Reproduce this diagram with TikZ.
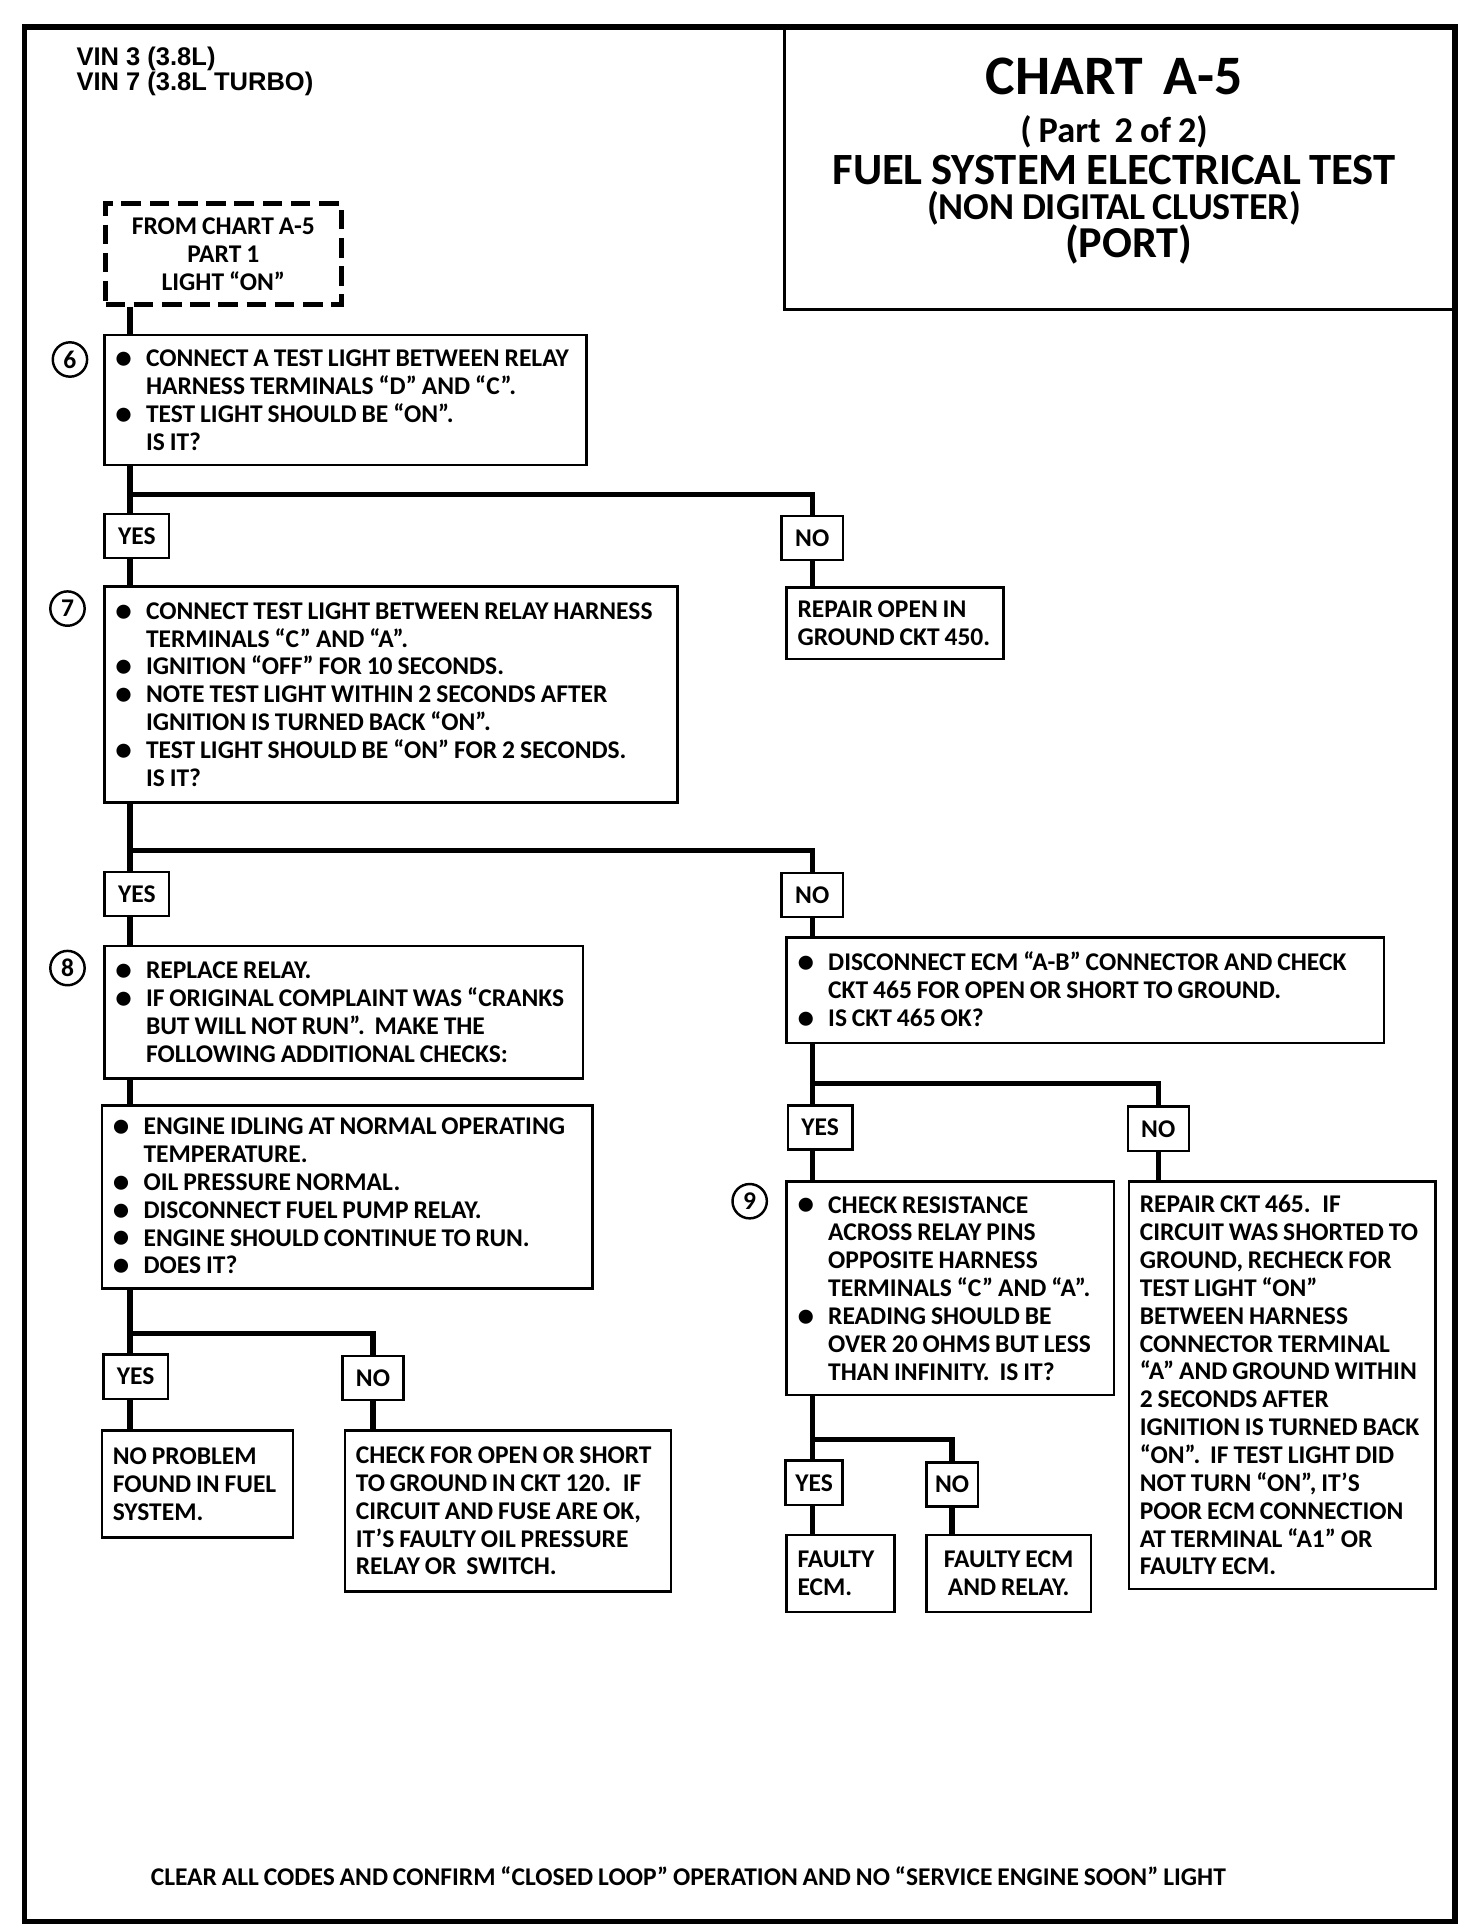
\documentclass[tikz,border=0pt]{standalone}
\usepackage{fontspec}
\setmainfont{Carlito}[WordSpace=0.85]
\newfontfamily\vinfont{Liberation Sans}
\usepackage{tikz}

\newcommand{\bodyfont}{\fontsize{10.4}{11.35}\selectfont\bfseries}
\newcommand{\bul}{\makebox[12.5pt][l]{\raisebox{-0.15ex}{\scalebox{1.3}{\textbullet}}}}
\newcommand{\ind}{\hspace*{12.5pt}}

\begin{document}
\begin{tikzpicture}[x=0.5pt, y=-0.5pt,
    chk/.style={draw, line width=1pt, anchor=north west, align=flush left, inner xsep=4.5pt, inner ysep=1pt, font=\bodyfont},
    ans/.style={draw, line width=1pt, font=\bodyfont, inner xsep=5.5pt, inner ysep=0pt, minimum height=18pt},
    wire/.style={line width=2.2pt},
    stepno/.style={circle, draw, line width=1pt, minimum size=14pt, inner sep=0pt, font=\bodyfont},
    headline/.style={anchor=base, inner sep=0pt, font=\bfseries}]
            \useasboundingbox (0,0) rectangle (1200,1573);
            \draw[line width=2.2pt] (20,22) rectangle (1186,1566);

            % Header and title block
            \node[anchor=base west, inner sep=0pt, font=\vinfont\bfseries\fontsize{10.4}{12}\selectfont] (vin3) at (62,53) {VIN 3 (3.8L)};
            \node[anchor=base west, inner sep=0pt, font=\vinfont\bfseries\fontsize{10.4}{12}\selectfont] (vin7) at (62,74) {VIN 7 (3.8L TURBO)};
            \node[draw, line width=1.2pt, anchor=north west, minimum width=274pt, minimum height=114.5pt, inner sep=0pt] (chartbox) at (638,22) {};
            \node[headline, font=\bfseries\fontsize{22.7}{24}\selectfont] (chart) at (908,77) {CHART\ \ A-5};
            \node[headline, font=\bfseries\fontsize{14.8}{16}\selectfont] (part) at (908,116) {( Part\ \ 2 of 2)};
            \node[headline, font=\bfseries\fontsize{18.2}{20}\selectfont] (fuel) at (908,150) {FUEL SYSTEM ELECTRICAL TEST};
            \node[headline, font=\bfseries\fontsize{15.5}{17}\selectfont] (cluster) at (908,179) {(NON DIGITAL CLUSTER)};
            \node[headline, font=\bfseries\fontsize{18}{20}\selectfont] (port) at (920,210) {(PORT)};

            % Trunk columns and branch rails
            \coordinate (cL) at (106,0);
            \coordinate (cR) at (662,0);
            \coordinate (rail6) at (106,403);
            \coordinate (rail7) at (106,693);
            \coordinate (rail8) at (106,1087);
            \coordinate (railA) at (662,883);
            \coordinate (railB) at (662,1173);

            % Left column
            \node[draw, dash pattern=on 8pt off 3.5pt, line width=2pt, anchor=north west, minimum width=96pt, minimum height=41pt, align=flush center, font=\bodyfont, inner sep=0pt] (from) at (84,164) {FROM CHART A-5\\PART 1\\LIGHT “ON”};

            \node[chk, text width=187.5pt, minimum height=53pt] (box6) at (84,272) {\bul CONNECT A TEST LIGHT BETWEEN RELAY\\\ind HARNESS TERMINALS “D” AND “C”.\\\bul TEST LIGHT SHOULD BE “ON”.\\\ind IS IT?};
            \node[stepno] (n6) at (57,293) {6};

            \node[ans] (yes6) at (111.5,437) {YES};
            \node[ans] (no6) at (662,438.5) {NO};
            \node[chk, text width=79.5pt, minimum height=29pt] (gnd) at (640,478) {REPAIR OPEN IN\\GROUND CKT 450.};

            \node[chk, text width=224.5pt, minimum height=88pt] (box7) at (84,477) {\bul CONNECT TEST LIGHT BETWEEN RELAY HARNESS\\\ind TERMINALS “C” AND “A”.\\\bul IGNITION “OFF” FOR 10 SECONDS.\\\bul NOTE TEST LIGHT WITHIN 2 SECONDS AFTER\\\ind IGNITION IS TURNED BACK “ON”.\\\bul TEST LIGHT SHOULD BE “ON” FOR 2 SECONDS.\\\ind IS IT?};
            \node[stepno] (n7) at (55,496) {7};

            \node[ans] (yes7) at (111.5,728.5) {YES};
            \node[ans] (no7) at (662,729.5) {NO};

            \node[chk, text width=186pt, minimum height=54pt] (box8) at (84,770) {\bul REPLACE RELAY.\\\bul IF ORIGINAL COMPLAINT WAS “CRANKS\\\ind BUT WILL NOT RUN”. \ MAKE THE\\\ind FOLLOWING ADDITIONAL CHECKS:};
            \node[stepno] (n8) at (55,789) {8};

            \node[chk, text width=191pt, minimum height=74.5pt] (idle) at (82,900) {\bul ENGINE IDLING AT NORMAL OPERATING\\\ind TEMPERATURE.\\\bul OIL PRESSURE NORMAL.\\\bul DISCONNECT FUEL PUMP RELAY.\\\bul ENGINE SHOULD CONTINUE TO RUN.\\\bul DOES IT?};

            \node[ans] (yes8) at (110.5,1122) {YES};
            \node[ans] (no8) at (304,1123) {NO};
            \node[chk, text width=69pt, minimum height=43.5pt] (okfuel) at (82,1165) {NO PROBLEM\\FOUND IN FUEL\\SYSTEM.};
            \node[chk, text width=124pt, minimum height=65.5pt] (oilsw) at (280,1165) {CHECK FOR OPEN OR SHORT\\TO GROUND IN CKT 120. \ IF\\CIRCUIT AND FUSE ARE OK,\\IT’S FAULTY OIL PRESSURE\\RELAY OR \ SWITCH.};

            % Right column
            \node[chk, text width=234.5pt, minimum height=43pt] (ecm) at (640,763) {\bul DISCONNECT ECM “A-B” CONNECTOR AND CHECK\\\ind CKT 465 FOR OPEN OR SHORT TO GROUND.\\\bul IS CKT 465 OK?};

            \node[ans] (yesA) at (668.5,919) {YES};
            \node[ans] (noA) at (944,920) {NO};

            \node[chk, text width=124.5pt, minimum height=87pt] (box9) at (640,962) {\bul CHECK RESISTANCE\\\ind ACROSS RELAY PINS\\\ind OPPOSITE HARNESS\\\ind TERMINALS “C” AND “A”.\\\bul READING SHOULD BE\\\ind OVER 20 OHMS BUT LESS\\\ind THAN INFINITY. \ IS IT?};
            \node[stepno] (n9) at (611,979) {9};

            \node[chk, text width=116pt, minimum height=166pt] (fix465) at (919,962) {REPAIR CKT 465. \ IF\\CIRCUIT WAS SHORTED TO\\GROUND, RECHECK FOR\\TEST LIGHT “ON”\\BETWEEN HARNESS\\CONNECTOR TERMINAL\\“A” AND GROUND WITHIN\\2 SECONDS AFTER\\IGNITION IS TURNED BACK\\“ON”. \ IF TEST LIGHT DID\\NOT TURN “ON”, IT’S\\POOR ECM CONNECTION\\AT TERMINAL “A1” OR\\FAULTY ECM.};

            \node[ans, inner xsep=4pt] (yesB) at (663.5,1208.5) {YES};
            \node[ans, inner xsep=3.5pt] (noB) at (776,1210) {NO};
            \node[chk, text width=35pt, minimum height=31.5pt] (badecm) at (640,1250) {FAULTY\\ECM.};
            \node[chk, text width=58pt, minimum height=31.5pt, align=flush center] (badrelay) at (754,1250) {FAULTY ECM\\AND RELAY.};

            % Connectors
            \draw[wire] (from.south -| cL) -- (box6.north -| cL);
            \draw[wire] (box6.south -| cL) -- (yes6.north -| cL);
            \draw[wire] (rail6) -| (no6.north);
            \draw[wire] (yes6.south -| cL) -- (box7.north -| cL);
            \draw[wire] (no6.south) -- (gnd.north -| no6.south);
            \draw[wire] (box7.south -| cL) -- (yes7.north -| cL);
            \draw[wire] (rail7) -| (no7.north);
            \draw[wire] (yes7.south -| cL) -- (box8.north -| cL);
            \draw[wire] (box8.south -| cL) -- (idle.north -| cL);
            \draw[wire] (idle.south -| cL) -- (yes8.north -| cL);
            \draw[wire] (rail8) -| (no8.north);
            \draw[wire] (yes8.south -| cL) -- (okfuel.north -| cL);
            \draw[wire] (no8.south) -- (oilsw.north -| no8.south);
            \draw[wire] (no7.south) -- (ecm.north -| no7.south);
            \draw[wire] (ecm.south -| cR) -- (yesA.north -| cR);
            \draw[wire] (railA) -| (noA.north);
            \draw[wire] (yesA.south -| cR) -- (box9.north -| cR);
            \draw[wire] (noA.south) -- (fix465.north -| noA.south);
            \draw[wire] (box9.south -| cR) -- (yesB.north -| cR);
            \draw[wire] (railB) -| (noB.north);
            \draw[wire] (yesB.south -| cR) -- (badecm.north -| cR);
            \draw[wire] (noB.south) -- (badrelay.north -| noB.south);

            % Closing note
            \node[anchor=base, font=\bfseries\fontsize{10.4}{12}\selectfont] (note) at (561,1537) {CLEAR ALL CODES AND CONFIRM “CLOSED LOOP” OPERATION AND NO “SERVICE ENGINE SOON” LIGHT};
\end{tikzpicture}
\end{document}
